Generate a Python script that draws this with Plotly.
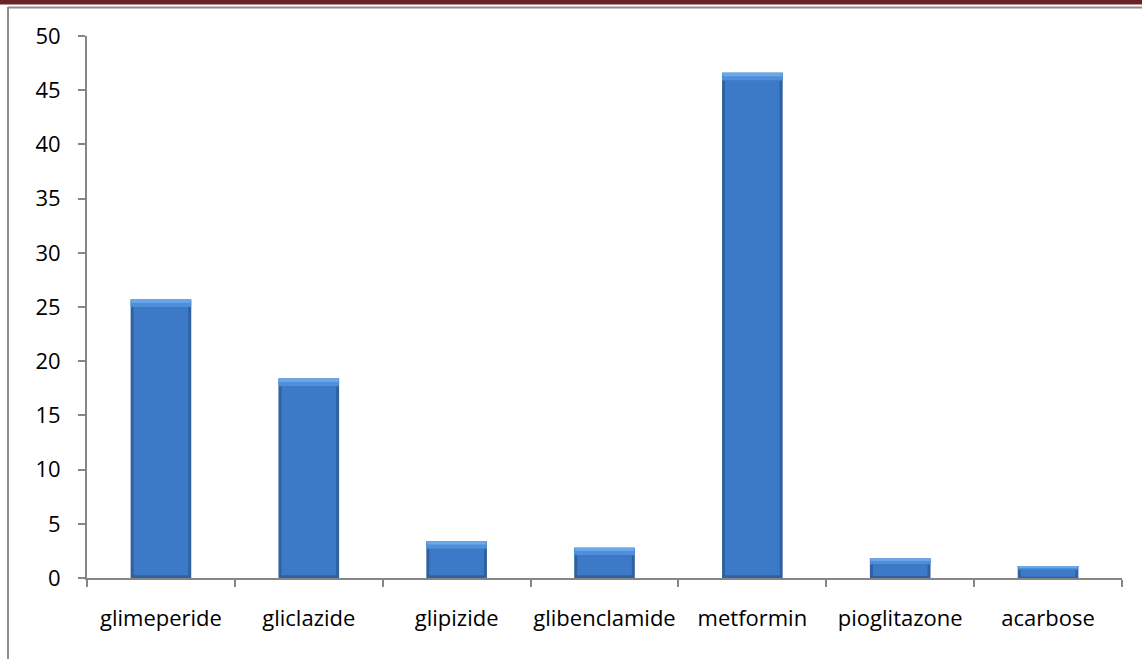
import plotly.graph_objects as go

drugs = ["glimeperide", "gliclazide", "glipizide", "glibenclamide",
         "metformin", "pioglitazone", "acarbose"]
values = [25.7, 18.4, 3.4, 2.8, 46.6, 1.8, 1.1]
y_ticks = list(range(0, 55, 5))

W, H = 1142, 659
L, R, T, B = 87, 20, 36, 81
pw, ph = W - L - R, H - T - B

def px_x(p):
    return (p - L) / pw

def px_y(p):
    return (H - B - p) / ph

# bevel sizes in data units, capped for very short bars
bevel = [min(0.7, v * 0.3) for v in values]
edge = [min(0.25, v * 0.1) for v in values]

fig = go.Figure()
# dark outer body (forms the bevelled edges)
fig.add_bar(x=drugs, y=values, width=0.41, marker=dict(color="#30609F", line=dict(width=0)),
            hoverinfo="skip")
# main face
fig.add_bar(x=drugs, y=[v - b - e for v, b, e in zip(values, bevel, edge)],
            base=edge, width=0.37,
            marker=dict(color="#3C7AC7", line=dict(width=0)), hoverinfo="skip")
# light top bevel
fig.add_bar(x=drugs, y=bevel, base=[v - b for v, b in zip(values, bevel)], width=0.41,
            marker=dict(color="#4F8FD9", line=dict(width=0)), hoverinfo="skip")
fig.add_bar(x=drugs, y=[b * 0.45 for b in bevel],
            base=[v - b * 0.45 for v, b in zip(values, bevel)], width=0.40,
            marker=dict(color="#6AA8EC", line=dict(width=0)), hoverinfo="skip")

font = "Open Sans"
fig.update_layout(
    width=W, height=H,
    margin=dict(l=L, r=R, t=T, b=B, pad=0, autoexpand=False),
    paper_bgcolor="white", plot_bgcolor="white",
    barmode="overlay", bargap=0.59, showlegend=False,
    font=dict(family=font, size=21, color="#000000"),
    xaxis=dict(
        type="category", showgrid=False, showline=True, linecolor="#868686", linewidth=2,
        ticks="outside", tickson="boundaries", ticklen=7, tickcolor="#868686", tickwidth=2,
        tickangle=0, automargin=False,
        ticklabelstandoff=20, tickfont=dict(family=font, size=22, color="#000"),
        fixedrange=True,
    ),
    yaxis=dict(
        range=[0, 50], tickvals=y_ticks, showgrid=False, zeroline=False,
        showline=True, linecolor="#868686", linewidth=2,
        ticks="outside", ticklen=7, tickcolor="#868686", tickwidth=2,
        automargin=False,
        ticklabelstandoff=13, tickfont=dict(family=font, size=22, color="#000"),
        fixedrange=True,
    ),
    shapes=[
        dict(type="rect", xref="paper", yref="paper", x0=px_x(0), x1=px_x(W),
             y0=px_y(4.5), y1=px_y(0), fillcolor="#6A2226", line=dict(width=0), layer="above"),
        dict(type="line", xref="paper", yref="paper", x0=px_x(8), x1=px_x(W),
             y0=px_y(7.5), y1=px_y(7.5), line=dict(color="#8C8C8C", width=2)),
        dict(type="line", xref="paper", yref="paper", x0=px_x(8), x1=px_x(8),
             y0=px_y(7), y1=px_y(H), line=dict(color="#8C8C8C", width=2)),
    ],
)

fig.write_html("out.html", config={"displayModeBar": False})
